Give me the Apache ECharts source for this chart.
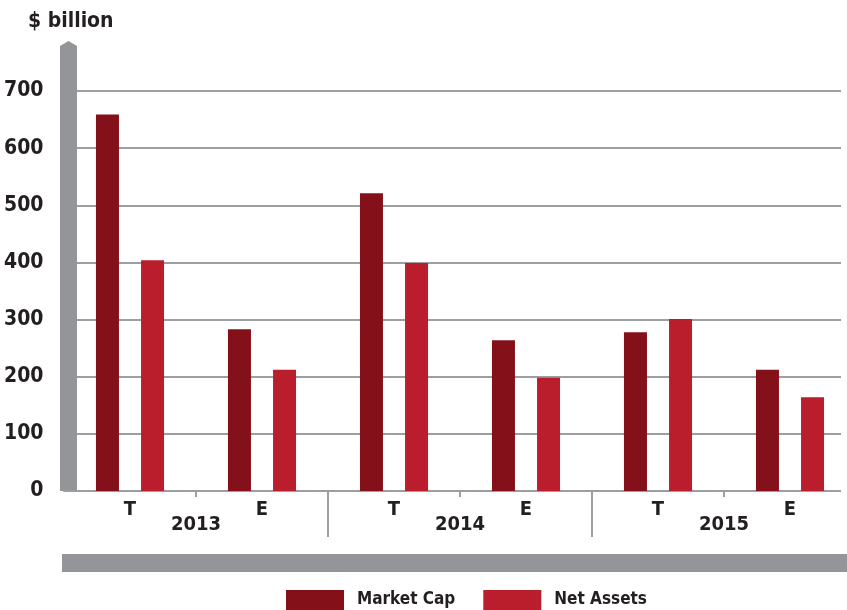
<!DOCTYPE html>
<html>
<head>
<meta charset="utf-8">
<script src="https://cdn.jsdelivr.net/npm/echarts@6/dist/echarts.min.js"></script>
<style>
html,body{margin:0;padding:0;background:#fff;}
#main{width:847px;height:610px;}
</style>
</head>
<body>
<div id="main"></div>
<script>
var categories = ['T', 'E', 'T', 'E', 'T', 'E'];
var years = ['2013', '2014', '2015'];
var marketCap = [659, 283, 521, 264, 278, 212];
var netAssets = [404, 212, 399, 198, 301, 164];
var seriesNames = ['Market Cap', 'Net Assets'];

var FONT = "'Liberation Sans Narrow', 'Arial Narrow', 'DejaVu Sans Condensed', sans-serif";
var GREY = '#939598';
var LINE = '#9d9ea2';
var INK = '#231f20';

var chart = echarts.init(document.getElementById('main'));
var option = {
	backgroundColor: '#fff',
	animation: false,
	title: {
		text: '$ billion',
		left: 28,
		top: 11,
		padding: 0,
		textStyle: {fontFamily: FONT, fontSize: 21, fontWeight: 'bold', color: INK}
	},
	grid: {left: 64, width: 792, top: 91, bottom: 119, containLabel: false, outerBoundsMode: 'none'},
	legend: {
		left: 286,
		top: 590,
		padding: 0,
		itemWidth: 58,
		itemHeight: 20,
		itemGap: 28,
		icon: 'rect',
		data: seriesNames,
		textStyle: {fontFamily: FONT, fontSize: 17, fontWeight: 'bold', color: INK, padding: [0, 0, 0, 8]}
	},
	xAxis: [{
		type: 'category',
		position: 'bottom',
		data: categories,
		axisLine: {show: true, lineStyle: {color: LINE, width: 2}},
		axisTick: {
			show: true, length: 6,
			interval: function (i) { return i % 2 === 1; },//年份内的小刻度
			lineStyle: {color: LINE, width: 2}
		},
		axisLabel: {
			interval: 0, margin: 9,
			fontFamily: FONT, fontSize: 20, fontWeight: 'bold', color: INK
		},
		splitLine: {show: false}
	}, {
		type: 'category',
		position: 'bottom',
		data: years,
		axisLine: {show: false},
		axisTick: {
			show: true, length: 46,
			interval: function (i) { return i > 0; },//年份分隔线
			lineStyle: {color: LINE, width: 2}
		},
		axisLabel: {
			interval: 0, margin: 24,
			fontFamily: FONT, fontSize: 20, fontWeight: 'bold', color: INK
		},
		splitLine: {show: false}
	}],
	yAxis: {
		type: 'value',
		min: 0,
		max: 700,
		interval: 100,
		offset: -4.5,
		axisLine: {
			show: true,
			symbol: ['none', 'path://M0,5L8.5,0L17,5L17,52L0,52Z'],
			symbolSize: [17, 52],
			symbolOffset: [0, 24],
			lineStyle: {color: GREY, width: 17, cap: 'butt'}
		},
		axisTick: {show: false},
		axisLabel: {margin: 25, fontFamily: FONT, fontSize: 21, fontWeight: 'bold', color: INK},
		splitLine: {show: true, lineStyle: {color: LINE, width: 2}}
	},
	series: [{
		name: seriesNames[0],
		type: 'bar',
		xAxisIndex: 0,
		barWidth: 23,
		barGap: '96%',
		itemStyle: {color: '#84101a'},
		data: marketCap
	}, {
		name: seriesNames[1],
		type: 'bar',
		xAxisIndex: 0,
		barWidth: 23,
		barGap: '96%',
		itemStyle: {color: '#ba1e2d'},
		data: netAssets
	}],
	graphic: [
		// 右侧网格线截断
		{type: 'rect', left: 841, top: 80, z: 100, shape: {width: 12, height: 420}, style: {fill: '#fff'}},
		// 底部灰色横条
		{type: 'rect', left: 62, top: 554, z: 100, shape: {width: 790, height: 18}, style: {fill: GREY}}
	]
};
chart.setOption(option);
</script>
</body>
</html>
